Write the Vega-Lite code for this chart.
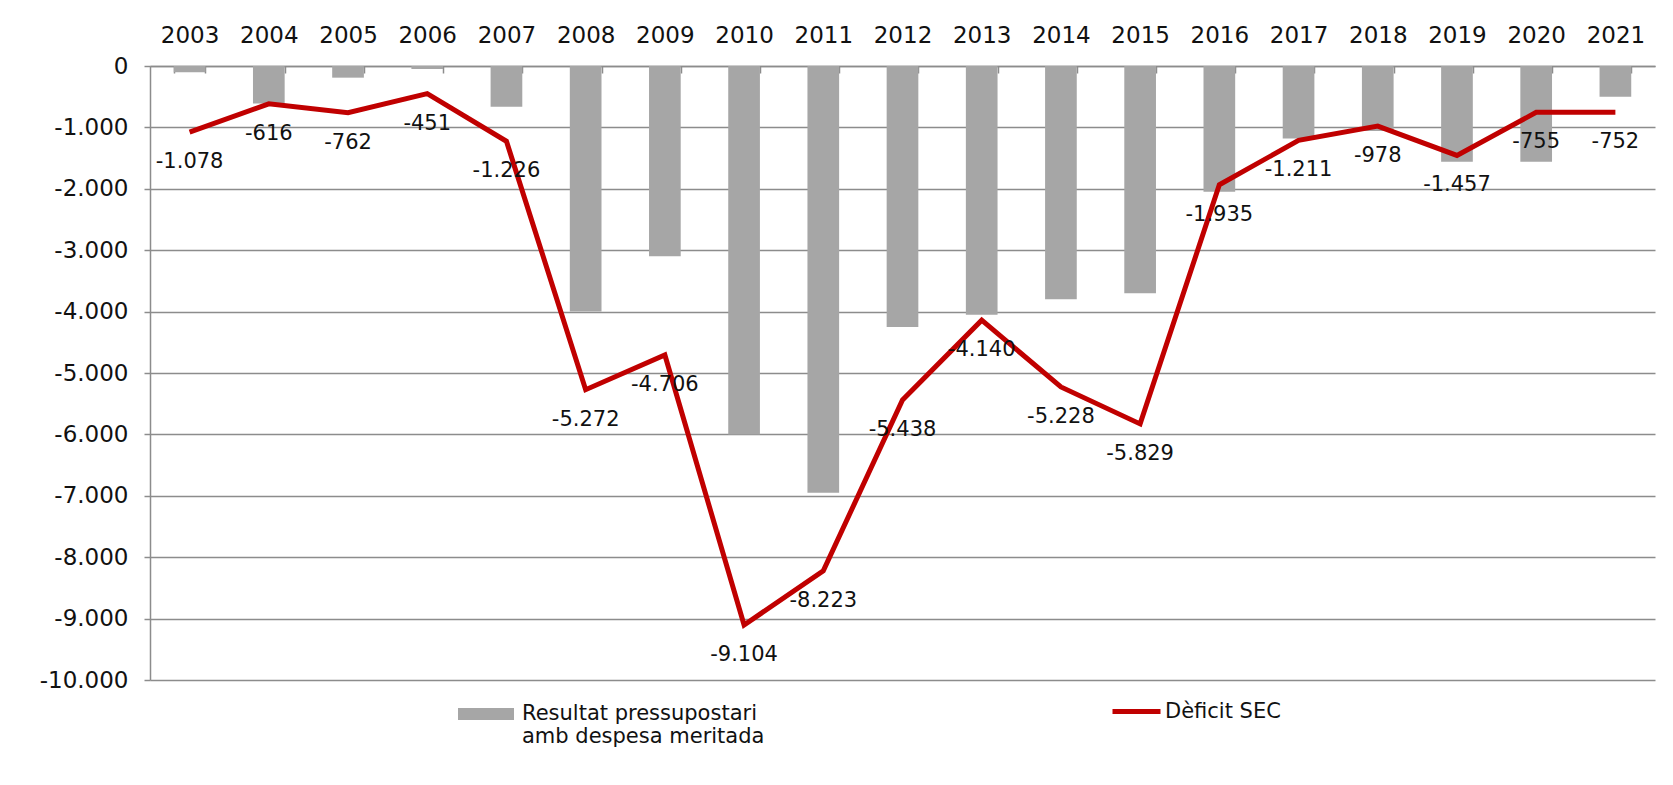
{
  "$schema": "https://vega.github.io/schema/vega-lite/v6.json",
  "width": 1505,
  "height": 614,
  "autosize": {"type": "none"},
  "padding": {"left": 150, "top": 66, "right": 18, "bottom": 105},
  "background": "white",
  "config": {
    "locale": {"number": {"decimal": ",", "thousands": ".", "grouping": [3], "currency": ["", " €"], "minus": "-"}},
    "view": {"stroke": null},
    "axis": {"labelFont": "DejaVu Sans", "labelColor": "#111", "domainColor": "#8c8c8c", "domainWidth": 1.5, "tickColor": "#8c8c8c", "tickWidth": 1.5, "gridColor": "#8c8c8c", "gridWidth": 1.5, "title": null},
    "legend": {"labelFont": "DejaVu Sans", "labelFontSize": 21, "labelColor": "#111", "title": null, "labelLimit": 500}
  },
  "data": {"values": [
    {"year": "2003", "res": -100, "def": -1078},
    {"year": "2004", "res": -610, "def": -616},
    {"year": "2005", "res": -190, "def": -762},
    {"year": "2006", "res": -50, "def": -451},
    {"year": "2007", "res": -665, "def": -1226},
    {"year": "2008", "res": -4000, "def": -5272},
    {"year": "2009", "res": -3100, "def": -4706},
    {"year": "2010", "res": -6000, "def": -9104},
    {"year": "2011", "res": -6950, "def": -8223},
    {"year": "2012", "res": -4250, "def": -5438},
    {"year": "2013", "res": -4050, "def": -4140},
    {"year": "2014", "res": -3800, "def": -5228},
    {"year": "2015", "res": -3700, "def": -5829},
    {"year": "2016", "res": -2050, "def": -1935},
    {"year": "2017", "res": -1180, "def": -1211},
    {"year": "2018", "res": -1060, "def": -978},
    {"year": "2019", "res": -1560, "def": -1457},
    {"year": "2020", "res": -1560, "def": -755},
    {"year": "2021", "res": -500, "def": -752}
  ]},
  "encoding": {
    "x": {"field": "year", "type": "ordinal", "scale": {"paddingInner": 0.6, "paddingOuter": 0.3},
      "axis": {"orient": "top", "labelAngle": 0, "labelFontSize": 23, "tickBand": "extent", "tickSize": -7, "labelPadding": 26, "grid": false}}
  },
  "layer": [
    {
      "mark": {"type": "bar", "stroke": null},
      "encoding": {
        "y": {"field": "res", "type": "quantitative", "scale": {"domain": [-10000, 0], "nice": false},
          "axis": {"values": [0, -1000, -2000, -3000, -4000, -5000, -6000, -7000, -8000, -9000, -10000], "format": ",d", "labelFontSize": 23, "tickSize": 6, "labelPadding": 16, "grid": true}},
        "fill": {"datum": "Resultat pressupostari amb despesa meritada", "type": "nominal",
          "scale": {"range": ["#a6a6a6"]},
          "legend": {"orient": "none", "legendX": 308, "legendY": 620, "symbolType": "M-1,-0.214H1V0.214H-1Z", "symbolSize": 3136, "symbolStrokeWidth": 0, "labelOffset": 8,
            "labelExpr": "['Resultat pressupostari', 'amb despesa meritada']",
            "encode": {"labels": {"update": {"lineHeight": {"value": 30}}}}}}
      }
    },
    {
      "mark": {"type": "line", "strokeWidth": 5, "strokeJoin": "miter"},
      "encoding": {
        "y": {"field": "def", "type": "quantitative"},
        "stroke": {"datum": "Dèficit SEC", "type": "nominal", "scale": {"range": ["#c00000"]},
          "legend": {"orient": "none", "legendX": 960, "legendY": 619, "symbolType": "stroke", "symbolSize": 2304, "symbolStrokeWidth": 5, "labelOffset": 2}}
      }
    },
    {
      "mark": {"type": "text", "font": "DejaVu Sans", "fontSize": 21, "color": "#111", "dy": 30, "baseline": "middle"},
      "encoding": {
        "y": {"field": "def", "type": "quantitative"},
        "text": {"field": "def", "type": "quantitative", "format": ",d"}
      }
    }
  ]
}
